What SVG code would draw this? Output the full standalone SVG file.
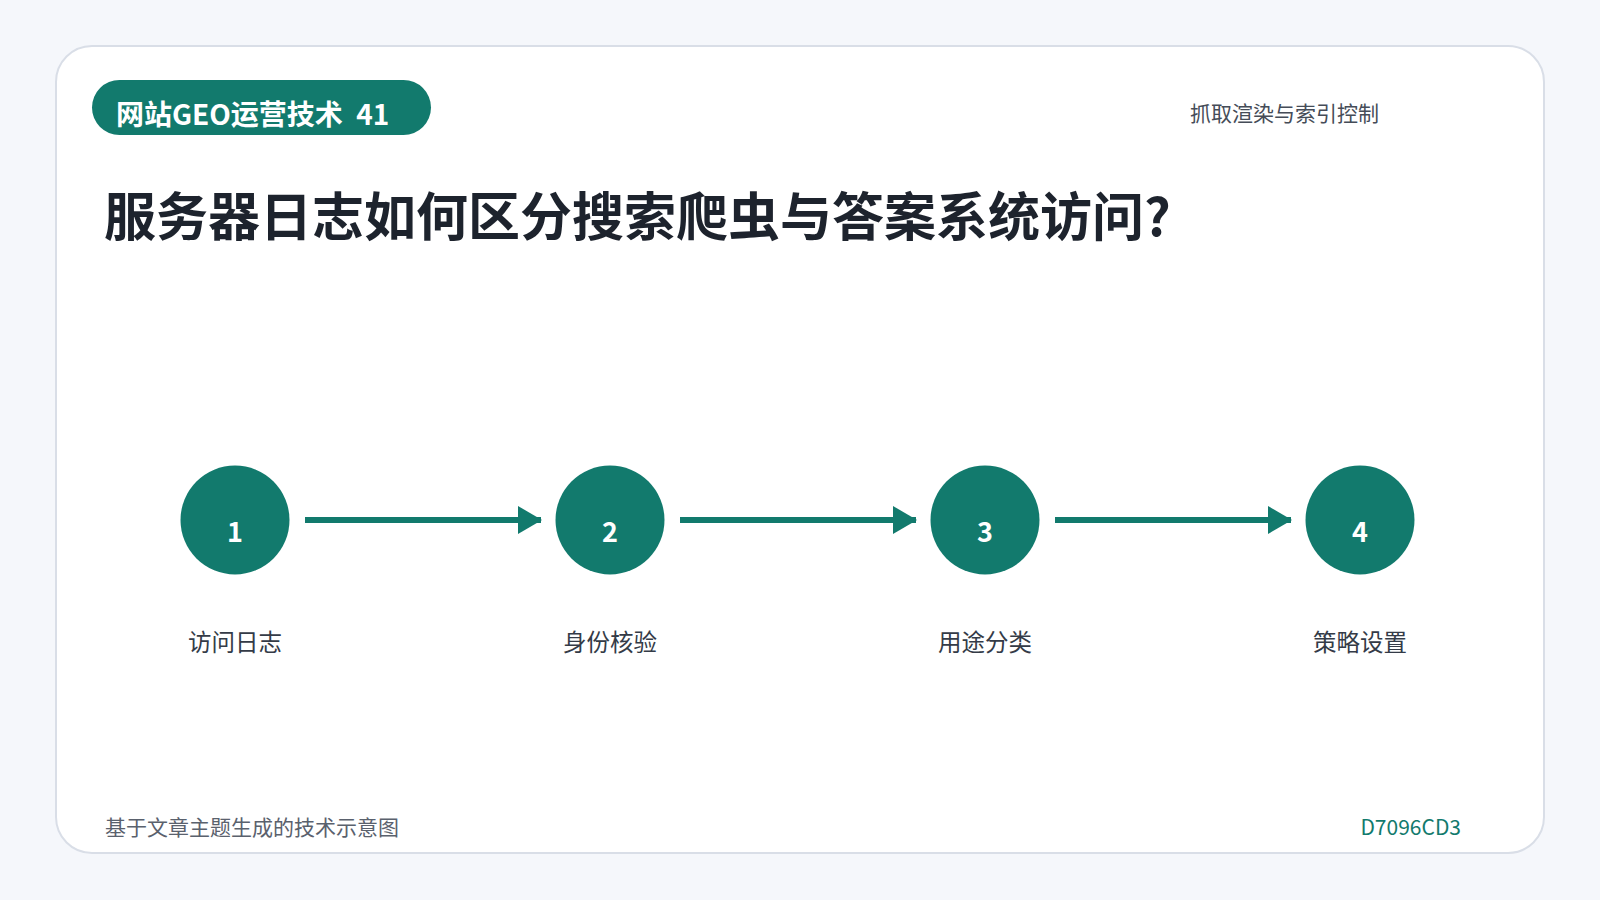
<svg xmlns="http://www.w3.org/2000/svg" width="1600" height="900" viewBox="0 0 1600 900">
  <defs>
    <style>
      .cjk { font-family: "Noto Sans CJK SC", "Noto Sans", "Liberation Sans", sans-serif; }
      .node circle { fill: #127a6d; }
      .num { font-size: 27px; font-weight: 700; fill: #ffffff; text-anchor: middle; }
      .lbl { font-size: 23.5px; fill: #343b47; text-anchor: middle; }
      .conn line { stroke: #127a6d; stroke-width: 6; }
    </style>
    <marker id="arrow" viewBox="0 0 24 28" refX="23" refY="14" markerWidth="24" markerHeight="28" markerUnits="userSpaceOnUse" orient="auto">
      <path d="M0,0 L24,14 L0,28 Z" fill="#127a6d"/>
    </marker>
  </defs>
  <rect x="0" y="0" width="1600" height="900" fill="#f5f7fb"/>
  <rect x="56" y="46" width="1488" height="807" rx="36" fill="#ffffff" stroke="#d9dee7" stroke-width="2"/>

  <g id="badge">
    <rect x="92" y="80" width="339" height="55" rx="27.5" fill="#127a6d"/>
    <text class="cjk" x="116" y="125" font-size="28" font-weight="700" fill="#ffffff">网站GEO运营技术 <tspan dx="7">41</tspan></text>
  </g>
  <text id="subtitle" class="cjk" x="1190" y="121" font-size="21" fill="#454c58">抓取渲染与索引控制</text>
  <text id="title" class="cjk" x="104" y="236" font-size="52" font-weight="700" fill="#1d232d">服务器日志如何区分搜索爬虫与答案系统访问?</text>

  <g id="connectors" class="conn">
    <line x1="305" y1="520" x2="541" y2="520" marker-end="url(#arrow)"/>
    <line x1="680" y1="520" x2="916" y2="520" marker-end="url(#arrow)"/>
    <line x1="1055" y1="520" x2="1291" y2="520" marker-end="url(#arrow)"/>
  </g>

  <g id="node1" class="node">
    <circle cx="235" cy="520" r="54.5"/>
    <text class="cjk num" x="235" y="542">1</text>
    <text class="cjk lbl" x="235" y="651">访问日志</text>
  </g>
  <g id="node2" class="node">
    <circle cx="610" cy="520" r="54.5"/>
    <text class="cjk num" x="610" y="542">2</text>
    <text class="cjk lbl" x="610" y="651">身份核验</text>
  </g>
  <g id="node3" class="node">
    <circle cx="985" cy="520" r="54.5"/>
    <text class="cjk num" x="985" y="542">3</text>
    <text class="cjk lbl" x="985" y="651">用途分类</text>
  </g>
  <g id="node4" class="node">
    <circle cx="1360" cy="520" r="54.5"/>
    <text class="cjk num" x="1360" y="542">4</text>
    <text class="cjk lbl" x="1360" y="651">策略设置</text>
  </g>

  <text id="footer-left" class="cjk" x="105" y="835" font-size="21" fill="#5a616d">基于文章主题生成的技术示意图</text>
  <text id="footer-right" class="cjk" x="1461" y="835" font-size="21" fill="#127a6d" text-anchor="end">D7096CD3</text>
</svg>
